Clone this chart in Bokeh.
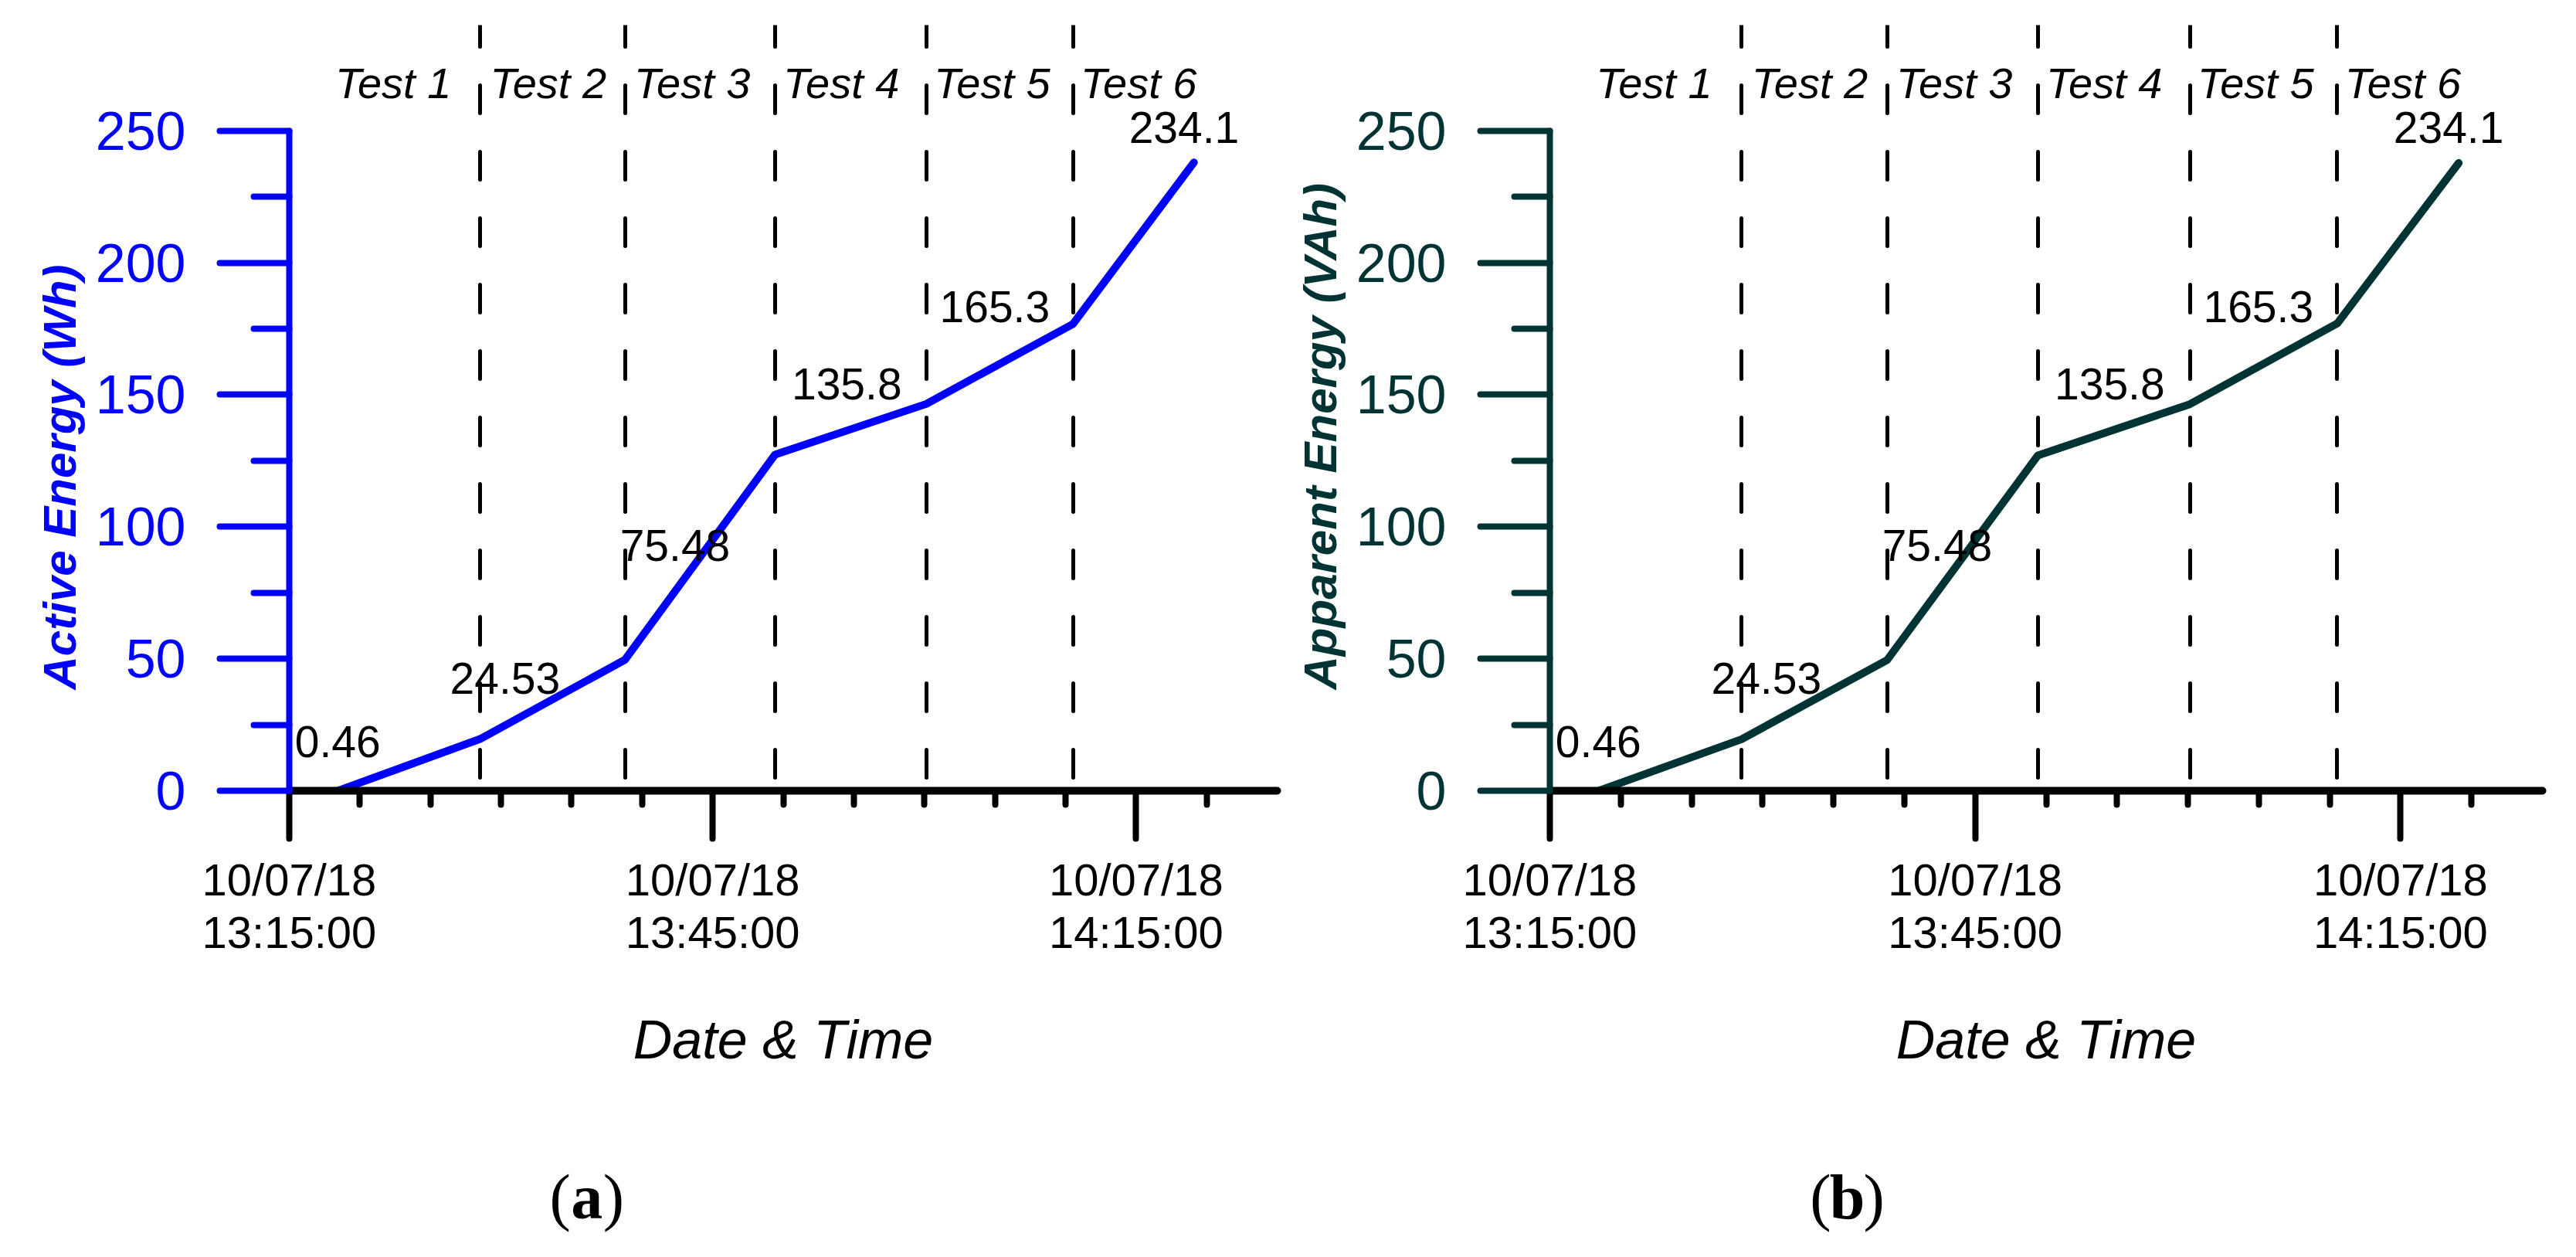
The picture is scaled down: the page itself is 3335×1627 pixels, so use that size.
import pandas as pd
from bokeh.plotting import figure
from bokeh.layouts import row, column
from bokeh.models import FixedTicker, DatetimeTickFormatter, Range1d, ColumnDataSource, Title
from bokeh.core.properties import value
from bokeh.embed import file_html
from bokeh.resources import INLINE

# ---------------- data ----------------
day = "2018-07-10"
point_times = ["13:18:27", "13:28:31", "13:38:47", "13:49:25", "14:00:08", "14:10:32", "14:19:06"]
active_energy = [0.0, 19.6, 49.6, 127.3, 146.5, 176.8, 238.0]
apparent_energy = [0.0, 19.5, 49.5, 127.0, 146.4, 177.0, 237.8]

test_names = ["Test 1", "Test 2", "Test 3", "Test 4", "Test 5", "Test 6"]
test_label_times = ["13:18:15", "13:29:14", "13:39:26", "13:50:00", "14:00:41", "14:11:04"]
test_boundaries = ["13:28:31", "13:38:47", "13:49:25", "14:00:08", "14:10:32"]
test_label_level = 261.7

energy_labels = ["0.46", "24.53", "75.48", "135.8", "165.3", "234.1"]
energy_label_times = ["13:15:24", "13:26:23", "13:38:26", "13:50:36", "14:01:05", "14:14:30"]
energy_label_levels = [12.2, 36.0, 86.6, 147.7, 176.8, 244.8]

x_start, x_end = "13:15:00", "14:25:00"
x_major_ticks = ["13:15:00", "13:45:00", "14:15:00"]
x_minor_ticks = ["13:20:00", "13:25:00", "13:30:00", "13:35:00", "13:40:00", "13:50:00",
                 "13:55:00", "14:00:00", "14:05:00", "14:10:00", "14:20:00"]
y_major_ticks = [0, 50, 100, 150, 200, 250]
y_minor_ticks = [25, 75, 125, 175, 225]
y_top = 290

caption_time = "13:36:05"
caption_level = 0.352


def ms(times):
    return [int(pd.Timestamp(f"{day} {t}").value // 10**6) for t in times]


SANS = value("Liberation Sans")
SERIF = value("Liberation Serif")
BLUE = "#0000FF"
TEAL = "#003333"
TEXT_SHIFT = -22  # screen px


def panel(values, color, ylabel, width, height, b_left, b_right, b_top, b_bottom):
    p = figure(width=width, height=height, x_axis_type="datetime",
               x_range=Range1d(ms([x_start])[0], ms([x_end])[0]),
               y_range=Range1d(0, y_top),
               output_backend="svg", toolbar_location=None,
               min_border_left=b_left, min_border_right=b_right,
               min_border_top=b_top, min_border_bottom=b_bottom)
    p.outline_line_color = None
    p.grid.visible = False

    # dashed test boundaries
    p.vspan(x=ms(test_boundaries), line_color="black", line_width=5,
            line_dash="36 50", line_dash_offset=8, line_cap="round")

    src = ColumnDataSource(dict(t=ms(point_times), v=values))
    p.line("t", "v", source=src, line_color=color, line_width=10,
           line_cap="round", line_join="round")

    p.text(x=ms(test_label_times), y=[test_label_level] * len(test_names), text=test_names,
           text_font=SANS, text_font_style="italic", text_font_size="56px",
           text_color="black", text_align="left", text_baseline="alphabetic",
           y_offset=TEXT_SHIFT)

    p.text(x=ms(energy_label_times), y=energy_label_levels, text=energy_labels,
           text_font=SANS, text_font_size="57px", text_color="black",
           text_align="left", text_baseline="alphabetic", y_offset=TEXT_SHIFT)

    # x axis
    xa = p.xaxis[0]
    xa.ticker = FixedTicker(ticks=ms(x_major_ticks), minor_ticks=ms(x_minor_ticks))
    fmt = "%d/%m/%y\n%H:%M:%S"
    xa.formatter = DatetimeTickFormatter(microseconds=fmt, milliseconds=fmt, seconds=fmt,
                                         minsec=fmt, minutes=fmt, hourmin=fmt, hours=fmt,
                                         days=fmt, months=fmt, years=fmt)
    xa.axis_line_color = "black"
    xa.axis_line_width = 10
    xa.axis_line_cap = "round"
    xa.major_tick_line_color = "black"
    xa.major_tick_line_width = 8
    xa.major_tick_line_cap = "round"
    xa.major_tick_out = 62
    xa.major_tick_in = 0
    xa.minor_tick_line_color = "black"
    xa.minor_tick_line_width = 8
    xa.minor_tick_line_cap = "round"
    xa.minor_tick_out = 18
    xa.minor_tick_in = 0
    xa.major_label_text_font = "Liberation Sans"
    xa.major_label_text_font_size = "58px"
    xa.major_label_text_line_height = 1.05
    xa.major_label_text_color = "black"
    xa.major_label_standoff = 20
    xa.axis_label = "Date & Time"
    xa.axis_label_text_font = "Liberation Sans"
    xa.axis_label_text_font_style = "italic"
    xa.axis_label_text_font_size = "70px"
    xa.axis_label_text_color = "black"
    xa.axis_label_standoff = 65

    # y axis
    ya = p.yaxis[0]
    ya.bounds = (0, 250)
    ya.ticker = FixedTicker(ticks=y_major_ticks, minor_ticks=y_minor_ticks)
    ya.axis_line_color = color
    ya.axis_line_width = 8
    ya.axis_line_cap = "round"
    ya.major_tick_line_color = color
    ya.major_tick_line_width = 8
    ya.major_tick_line_cap = "round"
    ya.major_tick_out = 90
    ya.major_tick_in = 0
    ya.minor_tick_line_color = color
    ya.minor_tick_line_width = 8
    ya.minor_tick_line_cap = "round"
    ya.minor_tick_out = 46
    ya.minor_tick_in = 0
    ya.major_label_text_font = "Liberation Sans"
    ya.major_label_text_font_size = "70px"
    ya.major_label_text_color = color
    ya.major_label_standoff = 44

    # y-axis title (beside the axis, starting 131 px above the frame bottom)
    p.add_layout(Title(text=ylabel, align="left", offset=131, standoff=20,
                       text_font="Liberation Sans", text_font_style="bold italic",
                       text_font_size="60px", text_color=color), "left")
    return p


def caption(letter, main, width, b_left, b_right):
    c = figure(width=width, height=125, x_range=main.x_range, y_range=Range1d(0, 1),
               output_backend="svg", toolbar_location=None,
               x_axis_location=None, y_axis_location=None,
               min_border_left=b_left, min_border_right=b_right,
               min_border_top=0, min_border_bottom=0)
    c.outline_line_color = None
    c.grid.visible = False
    ct = ms([caption_time])
    common = dict(x=ct, y=[caption_level], text_font=SERIF, text_font_size="82px",
                  text_color="black", text_baseline="alphabetic")
    c.text(text=["("], text_align="right", x_offset=-21, y_offset=TEXT_SHIFT, **common)
    c.text(text=[letter], text_align="center", text_font_style="bold", y_offset=TEXT_SHIFT, **common)
    c.text(text=[")"], text_align="left", x_offset=21, y_offset=TEXT_SHIFT, **common)
    return c


H = 1490
p1 = panel(active_energy, BLUE, "Active Energy (Wh)", 1663, H, 374, 10, 32, H - 32 - 993)
p2 = panel(apparent_energy, TEAL, "Apparent Energy (VAh)", 1655, H, 340, 27, 27, H - 27 - 996)
c1 = caption("a", p1, 1663, 374, 10)
c2 = caption("b", p2, 1655, 340, 27)

layout = column(row(p1, p2, spacing=0), row(c1, c2, spacing=0), spacing=0)
open("out.html", "w").write(file_html(layout, INLINE))
